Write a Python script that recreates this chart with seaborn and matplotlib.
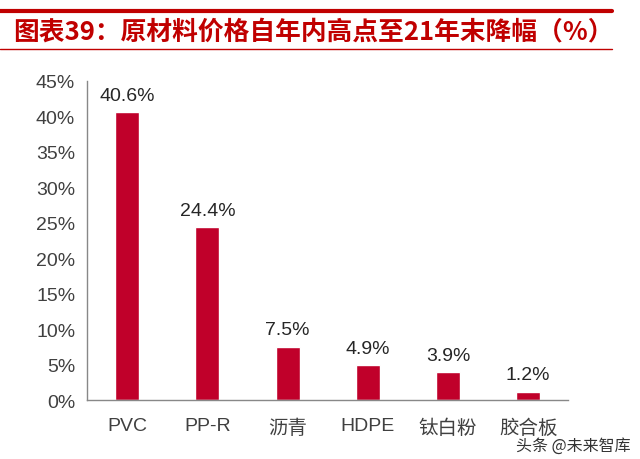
import matplotlib
matplotlib.use("Agg")
import matplotlib.pyplot as plt
from matplotlib.lines import Line2D
from matplotlib.ticker import FixedLocator, PercentFormatter
import numpy as np
import pandas as pd
import seaborn as sns

# data
materials = ["PVC", "PP-R", "沥青", "HDPE", "钛白粉", "胶合板"]
drop_pct = [40.6, 24.4, 7.5, 4.9, 3.9, 1.2]
y_ticks = [0, 5, 10, 15, 20, 25, 30, 35, 40, 45]

sns.set_style("white")
plt.rcParams["font.family"] = ["Noto Sans CJK SC", "DejaVu Sans"]

df = pd.DataFrame({"material": materials, "drop": drop_pct})

fig = plt.figure(figsize=(6.4, 4.6), dpi=100)
ax = fig.add_axes([0.136, 0.128, 0.752, 0.694])

sns.barplot(data=df, x="material", y="drop", color="#C0002A", width=0.3,
            saturation=1, ax=ax)

for i, v in enumerate(drop_pct):
    ax.text(i, v + 1.2, f"{v}%", ha="center", va="bottom", fontsize=14,
            color="#262626", family=["Liberation Sans", "DejaVu Sans"])

ax.set_ylim(0, 45)
ax.set_xlim(-0.5, len(materials) - 0.5)
ax.set_yticks(y_ticks)
ax.yaxis.set_major_formatter(PercentFormatter(decimals=0))
ax.set_xlabel("")
ax.set_ylabel("")

# tick marks between categories
ax.xaxis.set_minor_locator(FixedLocator(np.arange(-0.5, len(materials), 1)))
ax.tick_params(axis="x", which="major", length=0, pad=12, labelsize=14,
               labelcolor="#404040")
ax.tick_params(axis="x", which="minor", length=5, width=1, color="#888888",
               direction="out")
ax.tick_params(axis="y", length=5, width=1, color="#888888", direction="out",
               labelsize=14, labelcolor="#404040")
for lbl in ax.get_yticklabels():
    lbl.set_family(["Liberation Sans", "DejaVu Sans"])
for lbl in ax.get_xticklabels():
    if lbl.get_text() in ("PVC", "PP-R", "HDPE"):
        lbl.set_family(["Liberation Sans", "DejaVu Sans"])

for s in ["top", "right"]:
    ax.spines[s].set_visible(False)
for s in ["left", "bottom"]:
    ax.spines[s].set_color("#888888")
    ax.spines[s].set_linewidth(1)

# title bar
fig.add_artist(Line2D([0.0, 0.957], [0.974, 0.974], color="#C00000", lw=3))
fig.add_artist(Line2D([0.0, 0.957], [0.891, 0.891], color="#C00000", lw=1))
fig.text(0.02, 0.93, "图表39：原材料价格自年内高点至21年末降幅（%）",
         color="#C00000", fontsize=18.5, fontweight="bold", style="italic",
         va="center", ha="left")

fig.text(0.985, 0.03, "头条 @未来智库", ha="right", va="center",
         fontsize=11.5, color="#333333")

fig.savefig("out.png", dpi=100)
